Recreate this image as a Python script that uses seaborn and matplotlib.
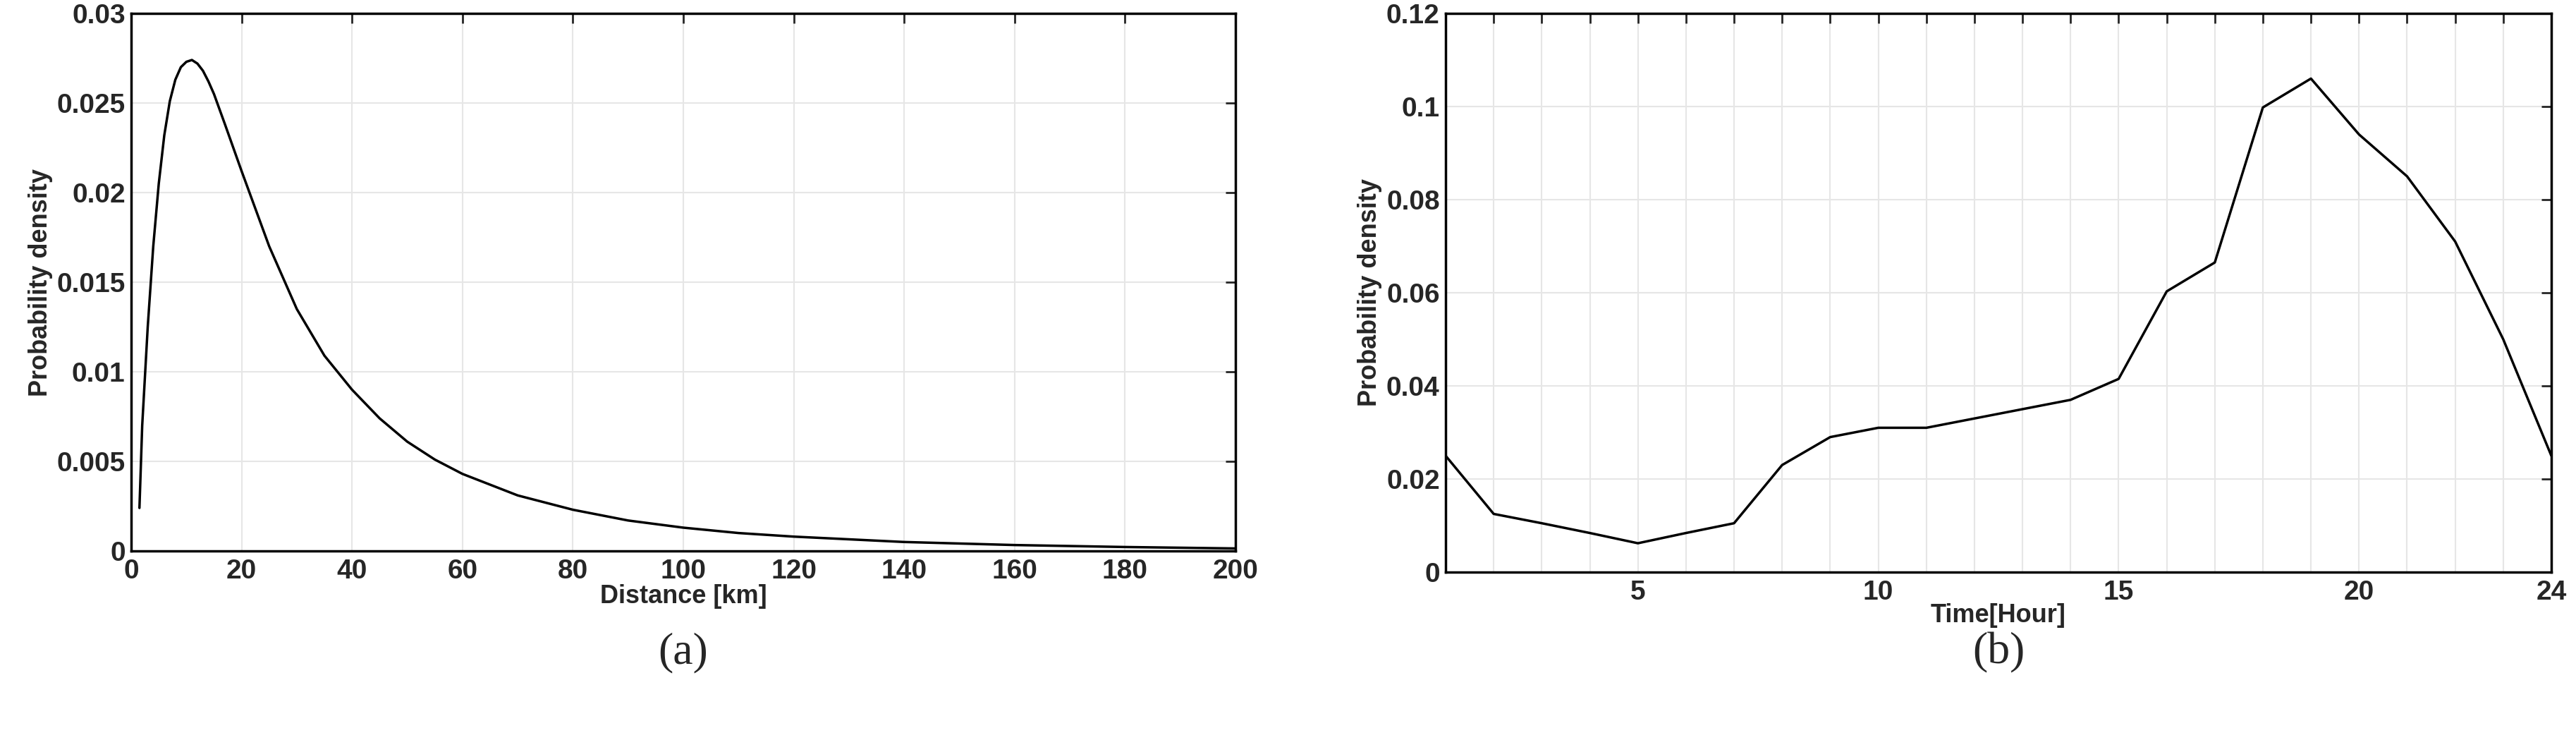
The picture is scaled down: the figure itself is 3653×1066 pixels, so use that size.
import numpy as np
import matplotlib
matplotlib.use("Agg")
import matplotlib.pyplot as plt
import seaborn as sns

# --- DATA ---
dist_km = [1.5, 2, 3, 4, 5, 6, 7, 8, 9, 10, 11, 12, 13, 14, 15, 17, 20, 25, 30, 35, 40, 45,
           50, 55, 60, 70, 80, 90, 100, 110, 120, 140, 160, 180, 200]
dist_pdf = [0.0024, 0.0070, 0.0125, 0.0170, 0.0205, 0.0232, 0.0251, 0.0263, 0.0270, 0.0273,
            0.0274, 0.0272, 0.0268, 0.0262, 0.0255, 0.0238, 0.0212, 0.0170, 0.0135, 0.0109,
            0.0090, 0.0074, 0.0061, 0.0051, 0.0043, 0.0031, 0.0023, 0.0017, 0.0013, 0.0010,
            0.0008, 0.0005, 0.00033, 0.00022, 0.00014]

hours = list(range(1, 25))
hour_pdf = [0.025, 0.0125, 0.0105, 0.0084, 0.0062, 0.0084, 0.0105, 0.023, 0.029, 0.031,
            0.031, 0.033, 0.035, 0.037, 0.0415, 0.0603, 0.0665, 0.0998, 0.106, 0.094,
            0.085, 0.071, 0.050, 0.025]

sns.set_theme(style="white")
plt.rcParams['font.family'] = ['Liberation Sans', 'DejaVu Sans']

fig = plt.figure(figsize=(36.53, 10.66), dpi=100)
ax1 = fig.add_axes([186 / 3653, 1 - 781 / 1066, 1566 / 3653, 762 / 1066])
ax2 = fig.add_axes([2050 / 3653, 1 - 811 / 1066, 1568 / 3653, 792 / 1066])

sns.lineplot(x=dist_km, y=dist_pdf, ax=ax1, color="black", linewidth=2.5)
ax1.set_xlim(0, 200)
ax1.set_ylim(0, 0.03)
ax1.set_xticks(np.arange(0, 201, 20))
ax1.set_yticks([0, 0.005, 0.01, 0.015, 0.02, 0.025, 0.03])
ax1.set_yticklabels(["0", "0.005", "0.01", "0.015", "0.02", "0.025", "0.03"])
ax1.set_xlabel("Distance [km]", fontsize=26, fontweight="bold", labelpad=0)
ax1.set_ylabel("Probability density", fontsize=26, fontweight="bold")

sns.lineplot(x=hours, y=hour_pdf, ax=ax2, color="black", linewidth=2.5)
ax2.set_xlim(1, 24)
ax2.set_ylim(0, 0.12)
ax2.set_xticks([5, 10, 15, 20, 24])
ax2.set_xticks(hours, minor=True)
ax2.set_yticks([0, 0.02, 0.04, 0.06, 0.08, 0.1, 0.12])
ax2.set_yticklabels(["0", "0.02", "0.04", "0.06", "0.08", "0.1", "0.12"])
ax2.set_xlabel("Time[Hour]", fontsize=26, fontweight="bold", labelpad=-2)
ax2.set_ylabel("Probability density", fontsize=26, fontweight="bold")

for ax in (ax1, ax2):
    ax.grid(True, which="both", color="#e6e6e6", linewidth=1.5)
    for s in ax.spines.values():
        s.set_color("black")
        s.set_linewidth(2.5)
    ax.tick_params(axis="both", which="both", direction="in", length=10, width=2,
                   top=True, right=True, labelsize=28, pad=6)
    ax.tick_params(axis="x", which="both", pad=8)
    for lbl in ax.get_xticklabels() + ax.get_yticklabels():
        lbl.set_fontweight("bold")

fig.text((186 + 1752) / 2 / 3653, 1 - 925 / 1066, "(a)", ha="center", va="center",
         fontsize=46, family=["Liberation Serif", "DejaVu Serif"])
fig.text((2050 + 3618) / 2 / 3653, 1 - 925 / 1066, "(b)", ha="center", va="center",
         fontsize=46, family=["Liberation Serif", "DejaVu Serif"])

fig.savefig("out.png", dpi=100, facecolor="white")
